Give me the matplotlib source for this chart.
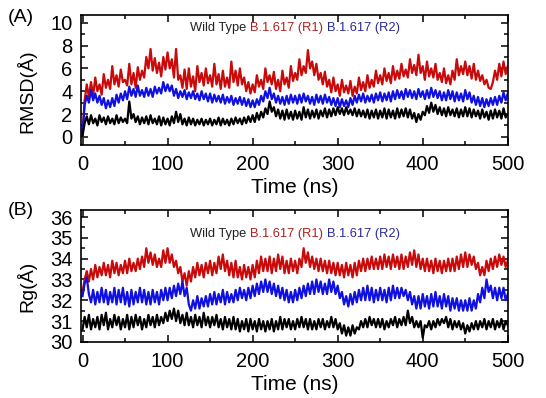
import numpy as np
import matplotlib.pyplot as plt
from matplotlib.offsetbox import TextArea, HPacker, AnchoredOffsetbox
from matplotlib.ticker import MultipleLocator

plt.rcParams['font.family'] = ['Liberation Sans', 'DejaVu Sans']

time_ns = np.arange(0, 500.1, 2.5)

rmsd_wt = [0.1, 1.2, 1.8, 1.1, 1.9, 1.2, 1.6, 1.0, 1.9, 1.3, 1.7, 1.1, 1.8, 1.2, 1.6, 1.1, 1.9, 1.2, 1.7, 1.3,
           1.6, 1.2, 3.1, 1.6, 2.0, 1.3, 1.8, 1.1, 1.7, 1.2, 1.8, 1.1, 1.9, 1.2, 1.6, 1.1, 1.8, 1.0, 1.7, 1.1,
           1.6, 1.0, 1.8, 1.2, 2.2, 1.3, 2.0, 1.1, 1.6, 1.0, 1.7, 1.1, 1.6, 1.0, 1.5, 1.1, 1.6, 1.0, 1.5, 1.1,
           1.6, 1.0, 1.5, 1.1, 1.7, 1.0, 1.6, 1.1, 1.5, 1.0, 1.6, 1.1, 1.7, 1.2, 1.6, 1.1, 1.7, 1.2, 1.8, 1.3,
           1.9, 1.3, 2.1, 1.5, 2.2, 1.7, 2.5, 2.0, 3.1, 2.2, 2.6, 1.8, 2.4, 1.6, 2.3, 1.5, 2.4, 1.6, 2.2, 1.5,
           2.3, 1.6, 2.2, 1.5, 2.6, 1.7, 2.4, 1.6, 2.3, 1.7, 2.4, 1.6, 2.3, 1.8, 2.5, 1.7, 2.4, 1.8, 2.5, 1.9,
           2.6, 2.0, 2.5, 1.9, 2.6, 2.0, 2.4, 1.9, 2.5, 1.8, 2.4, 1.8, 2.3, 1.7, 2.4, 1.6, 2.3, 1.7, 2.4, 1.6,
           2.3, 1.7, 2.5, 1.6, 2.4, 1.7, 2.3, 1.6, 2.5, 1.7, 2.4, 1.8, 2.5, 1.7, 2.4, 1.6, 2.1, 1.3, 2.0, 1.5,
           2.2, 1.9, 2.7, 2.1, 3.0, 2.2, 2.8, 2.0, 2.6, 1.9, 2.5, 1.8, 2.6, 1.9, 2.4, 1.8, 2.5, 1.7, 2.4, 1.8,
           2.6, 1.8, 2.5, 1.7, 2.4, 1.8, 2.3, 1.6, 2.4, 1.7, 2.2, 1.5, 2.3, 1.6, 2.4, 1.7, 2.3, 1.6, 2.5, 1.7,
           2.0]
rmsd_r1 = [0.3, 3.2, 4.6, 3.5, 4.8, 3.6, 5.2, 4.0, 4.6, 3.7, 5.5, 4.3, 5.0, 4.2, 6.2, 4.6, 5.4, 4.4, 5.9, 4.8,
           5.0, 4.5, 6.4, 4.6, 5.6, 4.3, 6.1, 5.0, 5.8, 5.2, 7.0, 6.0, 7.7, 5.8, 6.9, 5.6, 6.5, 5.3, 7.0, 5.9,
           7.4, 6.0, 6.8, 5.2, 7.7, 5.0, 5.4, 4.3, 5.9, 4.2, 6.0, 4.4, 5.3, 4.0, 6.2, 4.8, 5.6, 4.5, 6.0, 4.7,
           5.4, 4.4, 6.4, 4.6, 5.5, 4.2, 5.8, 4.4, 5.2, 4.3, 6.6, 4.8, 5.8, 4.5, 6.0, 4.6, 5.2, 4.0, 4.8, 3.8,
           4.6, 3.9, 5.4, 4.4, 5.0, 4.2, 6.0, 4.8, 5.4, 4.6, 5.7, 4.2, 5.0, 4.0, 5.8, 4.6, 5.2, 4.3, 6.2, 4.9,
           5.6, 5.0, 6.8, 5.4, 6.2, 5.6, 7.6, 6.0, 6.6, 5.4, 6.4, 5.0, 5.6, 4.6, 5.7, 4.4, 5.0, 3.9, 5.2, 4.0,
           4.6, 3.6, 5.0, 3.9, 4.5, 3.8, 4.9, 3.6, 4.4, 3.8, 5.2, 4.1, 4.8, 4.0, 5.4, 4.3, 5.0, 4.4, 5.8, 4.7,
           5.4, 4.6, 6.0, 4.9, 5.6, 4.7, 6.2, 5.0, 5.8, 5.1, 6.4, 5.3, 5.9, 5.2, 6.8, 5.6, 6.3, 5.4, 7.2, 5.6,
           6.2, 5.0, 6.6, 5.3, 6.0, 5.2, 6.4, 5.0, 5.6, 4.8, 6.0, 4.7, 5.4, 4.6, 5.8, 5.0, 6.8, 5.4, 6.2, 5.5,
           6.6, 5.4, 6.2, 5.1, 6.4, 5.0, 5.8, 4.9, 5.4, 4.6, 5.0, 4.3, 4.2, 4.8, 5.8, 5.0, 6.4, 5.3, 6.6, 5.5,
           6.2]
rmsd_r2 = [0.2, 2.8, 3.6, 3.0, 4.1, 3.2, 3.8, 3.0, 3.6, 2.8, 3.4, 2.5, 3.2, 2.6, 3.4, 2.7, 3.7, 3.0, 3.8, 3.2,
           4.0, 3.3, 4.4, 3.6, 4.2, 3.5, 4.5, 3.6, 4.1, 3.5, 4.3, 3.6, 4.2, 3.5, 4.4, 3.8, 4.3, 3.8, 4.8, 4.0,
           4.6, 4.0, 4.5, 3.6, 4.2, 3.4, 4.0, 3.5, 4.1, 3.3, 3.9, 3.4, 4.0, 3.3, 3.8, 3.2, 4.0, 3.3, 3.8, 3.1,
           3.8, 3.0, 3.7, 3.1, 3.6, 3.0, 3.7, 2.9, 3.5, 3.0, 3.6, 2.8, 3.4, 2.9, 3.5, 2.8, 3.4, 2.7, 3.3, 2.6,
           3.2, 2.6, 3.3, 2.8, 3.6, 3.1, 4.0, 3.4, 4.3, 3.3, 3.8, 3.0, 3.6, 2.9, 3.5, 2.8, 3.6, 2.9, 3.7, 3.0,
           3.6, 2.9, 3.7, 3.0, 3.8, 3.1, 3.6, 2.9, 3.5, 2.8, 3.7, 3.0, 3.6, 2.9, 3.7, 3.0, 3.5, 2.8, 3.4, 2.7,
           3.4, 2.6, 3.3, 2.7, 3.2, 2.6, 3.4, 2.8, 3.6, 3.0, 3.7, 3.1, 3.8, 3.0, 3.6, 3.1, 3.7, 3.0, 3.8, 3.2,
           3.9, 3.1, 3.8, 3.2, 3.9, 3.1, 4.0, 3.3, 4.1, 3.4, 4.0, 3.3, 4.2, 3.5, 4.1, 3.4, 4.0, 3.3, 4.2, 3.5,
           4.0, 3.3, 4.1, 3.4, 4.3, 3.5, 4.1, 3.4, 4.0, 3.2, 3.9, 3.2, 4.1, 3.3, 4.0, 3.1, 3.9, 3.2, 3.8, 3.1,
           4.1, 3.3, 3.9, 3.0, 3.6, 2.8, 3.5, 2.7, 3.4, 2.6, 3.3, 2.7, 3.4, 2.8, 3.5, 2.8, 3.6, 3.0, 3.9, 3.2,
           3.8]

rg_wt = [30.6, 31.2, 30.7, 31.3, 30.6, 31.1, 30.7, 31.2, 30.6, 31.3, 30.8, 31.4, 30.6, 31.1, 30.7, 31.3, 30.8, 31.2, 30.6, 31.1,
         30.7, 31.3, 30.6, 31.2, 30.7, 31.3, 30.8, 31.2, 30.6, 31.1, 30.7, 31.3, 30.8, 31.2, 30.7, 31.3, 30.8, 31.2, 30.9, 31.4,
         31.0, 31.5, 31.1, 31.6, 31.0, 31.5, 30.9, 31.3, 30.8, 31.4, 30.8, 31.2, 30.7, 31.3, 30.8, 31.2, 30.7, 31.4, 30.8, 31.2,
         30.7, 31.2, 30.8, 31.3, 30.7, 31.1, 30.6, 31.2, 30.7, 31.1, 30.6, 31.2, 30.6, 31.1, 30.5, 31.0, 30.6, 31.1, 30.5, 31.1,
         30.6, 31.0, 30.5, 31.1, 30.6, 31.0, 30.5, 31.0, 30.6, 31.1, 30.5, 31.0, 30.6, 31.2, 30.6, 31.1, 30.7, 31.1, 30.6, 31.0,
         30.6, 31.1, 30.7, 31.2, 30.7, 31.1, 30.6, 31.1, 30.6, 31.0, 30.6, 31.1, 30.7, 31.1, 30.6, 31.0, 30.7, 31.2, 30.7, 31.1,
         30.6, 30.9, 30.4, 30.8, 30.3, 30.7, 30.3, 30.8, 30.4, 30.7, 30.6, 31.0, 30.7, 31.1, 30.7, 31.2, 30.8, 31.1, 30.7, 31.1,
         30.7, 31.1, 30.6, 31.0, 30.7, 31.1, 30.8, 31.2, 30.7, 31.1, 30.8, 31.2, 30.8, 31.5, 30.9, 31.2, 30.7, 31.0, 30.7, 31.0,
         30.2, 30.8, 30.7, 31.0, 30.6, 31.0, 30.7, 31.1, 30.8, 31.1, 30.9, 31.2, 30.7, 31.1, 30.6, 31.0, 30.7, 31.0, 30.6, 30.9,
         30.4, 30.8, 30.5, 30.9, 30.6, 31.0, 30.6, 31.0, 30.7, 31.1, 30.6, 31.0, 30.7, 31.1, 30.6, 31.0, 30.7, 31.1, 30.6, 31.0,
         30.8]
rg_r1 = [32.4, 33.0, 33.4, 32.9, 33.5, 33.0, 33.7, 33.1, 33.6, 33.2, 33.8, 33.2, 33.7, 33.1, 33.9, 33.3, 33.8, 33.2, 33.7, 33.3,
         33.9, 33.3, 34.0, 33.4, 33.8, 33.4, 34.0, 33.5, 34.1, 33.6, 34.5, 33.8, 34.3, 33.7, 34.2, 33.6, 34.0, 33.6, 34.4, 33.8,
         34.5, 33.8, 34.2, 33.6, 33.9, 33.3, 33.6, 32.9, 33.3, 32.7, 33.4, 32.9, 33.6, 33.1, 33.8, 33.2, 33.7, 33.1, 33.8, 33.3,
         33.9, 33.2, 33.8, 33.3, 34.1, 33.5, 34.2, 33.4, 33.9, 33.2, 33.8, 33.1, 33.9, 33.1, 33.6, 33.0, 33.7, 33.1, 33.6, 33.0,
         33.7, 33.1, 33.9, 33.3, 34.1, 33.4, 34.0, 33.4, 34.1, 33.3, 34.0, 33.4, 34.2, 33.5, 34.1, 33.3, 33.9, 33.3, 34.0, 33.4,
         33.9, 33.3, 34.0, 33.6, 34.5, 33.8, 34.3, 33.6, 34.1, 33.5, 34.0, 33.4, 34.0, 33.4, 33.9, 33.3, 33.9, 33.3, 33.8, 33.2,
         33.8, 33.2, 33.7, 33.1, 33.8, 33.2, 33.7, 33.1, 33.8, 33.2, 33.9, 33.4, 34.0, 33.4, 34.0, 33.5, 34.1, 33.5, 34.0, 33.5,
         34.1, 33.5, 34.2, 33.6, 34.1, 33.5, 34.2, 33.6, 34.1, 33.5, 34.2, 33.5, 34.1, 33.6, 34.3, 33.7, 34.4, 33.6, 34.2, 33.5,
         34.0, 33.4, 34.0, 33.4, 33.9, 33.3, 34.0, 33.4, 33.9, 33.3, 33.9, 33.4, 34.0, 33.4, 34.0, 33.4, 34.1, 33.5, 34.2, 33.6,
         34.3, 33.6, 34.2, 33.7, 34.1, 33.5, 33.8, 33.2, 33.6, 33.2, 33.9, 33.4, 34.0, 33.5, 34.1, 33.6, 34.2, 33.7, 34.1, 33.6,
         33.9]
rg_r2 = [32.2, 32.8, 33.1, 32.3, 31.9, 32.5, 31.8, 32.4, 31.9, 32.6, 31.9, 32.5, 31.8, 32.4, 31.9, 32.6, 31.8, 32.5, 31.9, 32.6,
         31.8, 32.4, 31.7, 32.5, 31.8, 32.4, 31.9, 32.6, 31.9, 32.5, 31.8, 32.4, 31.8, 32.5, 31.9, 32.4, 31.8, 32.5, 32.0, 32.6,
         32.0, 32.6, 32.1, 32.7, 32.2, 32.8, 32.3, 32.9, 32.2, 32.6, 31.8, 31.5, 32.0, 31.6, 32.2, 31.6, 32.1, 31.7, 32.2, 31.7,
         32.3, 31.8, 32.4, 31.8, 32.3, 31.9, 32.5, 31.8, 32.4, 31.9, 32.3, 31.9, 32.5, 32.0, 32.6, 32.1, 32.5, 32.0, 32.6, 32.1,
         32.7, 32.2, 32.8, 32.3, 32.9, 32.4, 33.0, 32.4, 32.9, 32.3, 32.8, 32.2, 32.7, 32.1, 32.6, 32.0, 32.5, 31.9, 32.4, 31.9,
         32.5, 32.0, 32.6, 32.1, 32.7, 32.2, 32.8, 32.3, 32.9, 32.3, 33.0, 32.4, 32.9, 32.3, 32.8, 32.3, 33.0, 32.4, 32.9, 32.3,
         32.7, 32.1, 32.4, 31.8, 32.2, 31.7, 32.3, 31.8, 32.4, 31.9, 32.5, 32.0, 32.6, 32.0, 32.7, 32.0, 32.6, 31.9, 32.5, 32.0,
         32.6, 32.0, 32.5, 31.9, 32.6, 32.0, 32.7, 32.1, 32.6, 32.1, 32.6, 32.2, 32.5, 32.0, 32.4, 31.8, 32.2, 31.6, 32.2, 31.6,
         32.3, 31.7, 32.2, 31.6, 32.3, 31.7, 32.4, 31.7, 32.2, 31.6, 32.3, 31.7, 32.2, 31.5, 32.1, 31.6, 32.1, 31.5, 32.0, 31.5,
         32.0, 31.5, 32.1, 31.5, 32.0, 31.6, 32.3, 31.9, 32.6, 32.1, 33.0, 32.4, 32.7, 32.1, 32.6, 32.0, 32.6, 32.1, 32.6, 32.0,
         32.3]

labels = ['Wild Type', 'B.1.617 (R1)', 'B.1.617 (R2)']
line_colors = ['black', '#c80a0a', '#1010e0']
label_colors = ['#222222', '#b02020', '#2a2a9a']

fig = plt.figure(figsize=(5.46, 3.98), dpi=100)
ax1 = fig.add_axes([0.148, 0.636, 0.782, 0.327])
ax2 = fig.add_axes([0.148, 0.141, 0.782, 0.332])


def style_panel(ax, series, ylim, major, minor, ylabel, ylabel_y, legend_y):
    # red first, then blue, black on top
    for ys, c in zip([series[1], series[2], series[0]], [line_colors[1], line_colors[2], line_colors[0]]):
        ax.plot(time_ns, ys, color=c, lw=1.6)
    ax.set_xlim(-2, 500)
    ax.set_ylim(*ylim)
    ax.xaxis.set_major_locator(MultipleLocator(100))
    ax.xaxis.set_minor_locator(MultipleLocator(50))
    ax.yaxis.set_major_locator(MultipleLocator(major))
    ax.yaxis.set_minor_locator(MultipleLocator(minor))
    ax.tick_params(which='both', direction='in', top=True, right=True, labelsize=14.5, width=1.1)
    ax.tick_params(which='major', length=5)
    ax.tick_params(which='minor', length=3)
    ax.tick_params(axis='x', pad=7)
    ax.tick_params(axis='y', pad=6)
    for s in ax.spines.values():
        s.set_linewidth(1.2)
    ax.set_xlabel('Time (ns)', fontsize=15, labelpad=3)
    ax.set_ylabel(ylabel, fontsize=14)
    ax.yaxis.set_label_coords(-0.105, ylabel_y)
    parts = [TextArea(t, textprops=dict(color=c, fontsize=9.3)) for t, c in zip(labels, label_colors)]
    box = HPacker(children=parts, align='center', pad=0, sep=3)
    anchored = AnchoredOffsetbox(loc='center left', child=box, frameon=False,
                                 bbox_to_anchor=(0.255, legend_y), bbox_transform=ax.transAxes,
                                 borderpad=0, pad=0)
    ax.add_artist(anchored)


style_panel(ax1, [rmsd_wt, rmsd_r1, rmsd_r2], (-0.7, 10.7), 2, 1, 'RMSD(Å)', 0.41, 0.9)
style_panel(ax2, [rg_wt, rg_r1, rg_r2], (30, 36.35), 1, 0.5, 'Rg(Å)', 0.42, 0.82)

fig.text(0.015, 0.955, '(A)', fontsize=14, va='center')
fig.text(0.015, 0.472, '(B)', fontsize=14, va='center')

plt.savefig('out.png', dpi=100)
